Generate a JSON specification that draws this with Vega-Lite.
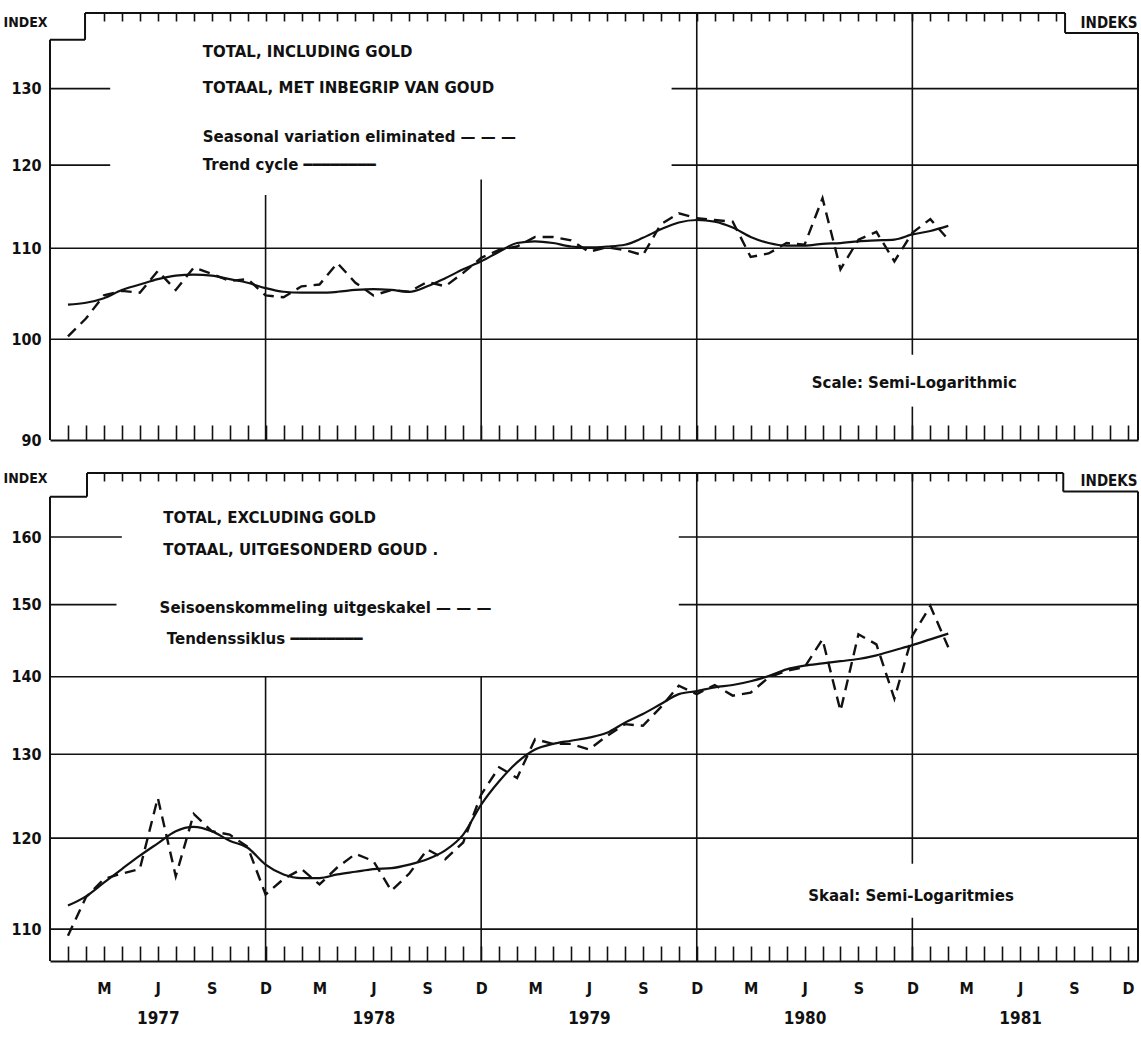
{
  "$schema": "https://vega.github.io/schema/vega-lite/v6.json",
  "background": "white",
  "padding": {"left": 3, "top": 12, "right": 2, "bottom": 4},
  "spacing": 23,
  "config": {
    "view": {"stroke": null},
    "font": "DejaVu Sans Condensed",
    "axis": {"labelColor": "#111", "titleColor": "#111", "domainColor": "#111", "tickColor": "#111", "labelFlush": false, "labelOverlap": false}
  },
  "datasets": {
    "top_series": [
      {"t":1,"sa":100.3,"tc":103.7},{"t":2,"sa":102.2,"tc":103.9},{"t":3,"sa":104.7,"tc":104.4},{"t":4,"sa":105.2,"tc":105.3},
      {"t":5,"sa":105.0,"tc":105.9},{"t":6,"sa":107.4,"tc":106.5},{"t":7,"sa":105.3,"tc":106.9},{"t":8,"sa":107.8,"tc":107.0},
      {"t":9,"sa":107.1,"tc":106.9},{"t":10,"sa":106.3,"tc":106.5},{"t":11,"sa":106.5,"tc":106.1},{"t":12,"sa":104.7,"tc":105.5},
      {"t":13,"sa":104.5,"tc":105.1},{"t":14,"sa":105.7,"tc":105.0},{"t":15,"sa":105.9,"tc":105.0},{"t":16,"sa":108.3,"tc":105.1},
      {"t":17,"sa":106.1,"tc":105.3},{"t":18,"sa":104.7,"tc":105.4},{"t":19,"sa":105.3,"tc":105.3},{"t":20,"sa":105.1,"tc":105.1},
      {"t":21,"sa":106.2,"tc":105.7},{"t":22,"sa":105.7,"tc":106.6},{"t":23,"sa":107.2,"tc":107.6},{"t":24,"sa":108.9,"tc":108.5},
      {"t":25,"sa":109.8,"tc":109.6},{"t":26,"sa":110.2,"tc":110.6},{"t":27,"sa":111.3,"tc":110.8},{"t":28,"sa":111.3,"tc":110.6},
      {"t":29,"sa":110.9,"tc":110.2},{"t":30,"sa":109.6,"tc":110.1},{"t":31,"sa":110.1,"tc":110.2},{"t":32,"sa":109.8,"tc":110.4},
      {"t":33,"sa":109.2,"tc":111.2},{"t":34,"sa":112.8,"tc":112.2},{"t":35,"sa":114.1,"tc":113.0},{"t":36,"sa":113.5,"tc":113.3},
      {"t":37,"sa":113.3,"tc":113.1},{"t":38,"sa":113.1,"tc":112.4},{"t":39,"sa":109.0,"tc":111.3},{"t":40,"sa":109.4,"tc":110.6},
      {"t":41,"sa":110.6,"tc":110.3},{"t":42,"sa":110.4,"tc":110.3},{"t":43,"sa":115.9,"tc":110.5},{"t":44,"sa":107.6,"tc":110.6},
      {"t":45,"sa":111.0,"tc":110.8},{"t":46,"sa":111.9,"tc":110.9},{"t":47,"sa":108.5,"tc":111.0},{"t":48,"sa":111.8,"tc":111.6},
      {"t":49,"sa":113.4,"tc":112.0},{"t":50,"sa":111.0,"tc":112.6}
    ],
    "bottom_series": [
      {"t":1,"sa":109.3,"tc":112.5},{"t":2,"sa":113.4,"tc":113.5},{"t":3,"sa":115.4,"tc":115.0},{"t":4,"sa":116.0,"tc":116.5},
      {"t":5,"sa":116.5,"tc":118.0},{"t":6,"sa":124.7,"tc":119.4},{"t":7,"sa":115.7,"tc":120.8},{"t":8,"sa":122.8,"tc":121.3},
      {"t":9,"sa":120.8,"tc":120.8},{"t":10,"sa":120.4,"tc":119.7},{"t":11,"sa":119.0,"tc":118.9},{"t":12,"sa":113.7,"tc":117.0},
      {"t":13,"sa":115.4,"tc":115.9},{"t":14,"sa":116.5,"tc":115.5},{"t":15,"sa":114.8,"tc":115.5},{"t":16,"sa":116.7,"tc":115.9},
      {"t":17,"sa":118.2,"tc":116.2},{"t":18,"sa":117.4,"tc":116.5},{"t":19,"sa":114.1,"tc":116.6},{"t":20,"sa":116.0,"tc":117.0},
      {"t":21,"sa":118.7,"tc":117.6},{"t":22,"sa":117.6,"tc":118.6},{"t":23,"sa":119.5,"tc":120.4},{"t":24,"sa":125.1,"tc":123.9},
      {"t":25,"sa":128.4,"tc":126.7},{"t":26,"sa":127.1,"tc":129.0},{"t":27,"sa":131.9,"tc":130.6},{"t":28,"sa":131.3,"tc":131.3},
      {"t":29,"sa":131.3,"tc":131.7},{"t":30,"sa":130.6,"tc":132.1},{"t":31,"sa":132.3,"tc":132.7},{"t":32,"sa":133.8,"tc":134.0},
      {"t":33,"sa":133.6,"tc":135.1},{"t":34,"sa":136.0,"tc":136.4},{"t":35,"sa":138.8,"tc":137.7},{"t":36,"sa":137.7,"tc":138.1},
      {"t":37,"sa":138.9,"tc":138.6},{"t":38,"sa":137.5,"tc":138.9},{"t":39,"sa":137.9,"tc":139.4},{"t":40,"sa":139.9,"tc":140.1},
      {"t":41,"sa":140.8,"tc":141.0},{"t":42,"sa":141.3,"tc":141.5},{"t":43,"sa":145.1,"tc":141.8},{"t":44,"sa":135.5,"tc":142.1},
      {"t":45,"sa":145.8,"tc":142.4},{"t":46,"sa":144.4,"tc":142.9},{"t":47,"sa":137.1,"tc":143.6},{"t":48,"sa":145.6,"tc":144.3},
      {"t":49,"sa":149.8,"tc":145.1},{"t":50,"sa":144.0,"tc":145.9}
    ],
    "top_grid": [
      {"t1":0,"t2":60.56,"v1":100,"v2":100},
      {"t1":0,"t2":60.56,"v1":110,"v2":110},
      {"t1":0,"t2":3.35,"v1":120,"v2":120},
      {"t1":34.6,"t2":60.56,"v1":120,"v2":120},
      {"t1":0,"t2":3.35,"v1":130,"v2":130},
      {"t1":34.6,"t2":60.56,"v1":130,"v2":130},
      {"t1":12,"t2":12,"v1":90,"v2":116.3},
      {"t1":24,"t2":24,"v1":90,"v2":118.2},
      {"t1":36,"t2":36,"v1":90,"v2":140.7},
      {"t1":48,"t2":48,"v1":90,"v2":93.2},
      {"t1":48,"t2":48,"v1":98.4,"v2":140.7}
    ],
    "top_frame": [
      {"t1":0,"t2":0,"v1":90,"v2":136.8},
      {"t1":0,"t2":1.95,"v1":136.8,"v2":136.8},
      {"t1":1.95,"t2":1.95,"v1":136.8,"v2":140.7},
      {"t1":1.95,"t2":56.5,"v1":140.7,"v2":140.7},
      {"t1":56.5,"t2":56.5,"v1":140.7,"v2":137.8},
      {"t1":56.5,"t2":60.56,"v1":137.8,"v2":137.8},
      {"t1":60.56,"t2":60.56,"v1":90,"v2":137.8}
    ],
    "bottom_grid": [
      {"t1":0,"t2":60.56,"v1":110,"v2":110},
      {"t1":0,"t2":60.56,"v1":120,"v2":120},
      {"t1":0,"t2":60.56,"v1":130,"v2":130},
      {"t1":0,"t2":60.56,"v1":140,"v2":140},
      {"t1":0,"t2":3.7,"v1":150,"v2":150},
      {"t1":35.0,"t2":60.56,"v1":150,"v2":150},
      {"t1":0,"t2":4.0,"v1":160,"v2":160},
      {"t1":35.0,"t2":60.56,"v1":160,"v2":160},
      {"t1":12,"t2":12,"v1":106.7,"v2":140},
      {"t1":24,"t2":24,"v1":106.7,"v2":140},
      {"t1":36,"t2":36,"v1":106.7,"v2":170.1},
      {"t1":48,"t2":48,"v1":106.7,"v2":111.2},
      {"t1":48,"t2":48,"v1":117.1,"v2":170.1}
    ],
    "bottom_frame": [
      {"t1":0,"t2":0,"v1":106.7,"v2":166.3},
      {"t1":0,"t2":2.06,"v1":166.3,"v2":166.3},
      {"t1":2.06,"t2":2.06,"v1":166.3,"v2":170.1},
      {"t1":2.06,"t2":56.4,"v1":170.1,"v2":170.1},
      {"t1":56.4,"t2":56.4,"v1":170.1,"v2":167.1},
      {"t1":56.4,"t2":60.56,"v1":167.1,"v2":167.1},
      {"t1":60.56,"t2":60.56,"v1":106.7,"v2":167.1}
    ],
    "top_text": [
      {"t":8.5,"v":135.1,"label":"TOTAL, INCLUDING GOLD"},
      {"t":8.5,"v":130.1,"label":"TOTAAL, MET INBEGRIP VAN GOUD"},
      {"t":8.5,"v":123.6,"label":"Seasonal variation eliminated —  —  —"},
      {"t":8.5,"v":120.0,"label":"Trend cycle ━━━━━━━━"},
      {"t":42.4,"v":95.5,"label":"Scale: Semi-Logarithmic"}
    ],
    "bottom_text": [
      {"t":6.3,"v":163.0,"label":"TOTAL, EXCLUDING GOLD"},
      {"t":6.3,"v":158.1,"label":"TOTAAL, UITGESONDERD GOUD ."},
      {"t":6.1,"v":149.5,"label":"Seisoenskommeling uitgeskakel —  —  —"},
      {"t":6.5,"v":145.2,"label":"Tendenssiklus ━━━━━━━━"},
      {"t":42.2,"v":113.5,"label":"Skaal: Semi-Logaritmies"}
    ]
  },
  "vconcat": [
    {
      "width": 1088,
      "height": 427,
      "resolve": {"axis": {"x": "independent", "y": "independent"}},
      "layer": [
        {
          "data": {"name": "top_grid"},
          "mark": {"type": "rule", "strokeWidth": 1.6, "color": "#111"},
          "encoding": {
            "x": {"field": "t1", "type": "quantitative", "scale": {"domain": [0, 60.56], "nice": false, "zero": false},
              "axis": {"orient": "bottom", "values": [1,2,3,4,5,6,7,8,9,10,11,12,13,14,15,16,17,18,19,20,21,22,23,24,25,26,27,28,29,30,31,32,33,34,35,36,37,38,39,40,41,42,43,44,45,46,47,48,49,50,51,52,53,54,55,56,57,58,59,60],
                "tickSize": -15, "tickWidth": 1.6, "labels": false, "domain": true, "domainWidth": 2, "grid": false, "title": null}},
            "x2": {"field": "t2"},
            "y": {"field": "v1", "type": "quantitative", "scale": {"type": "log", "domain": [90, 140.7], "nice": false, "zero": false},
              "axis": {"orient": "left", "values": [90, 100, 110, 120, 130], "format": "d", "ticks": false, "domain": false, "grid": false,
                "labelPadding": 9, "labelFontSize": 16, "labelFontWeight": "bold",
                "title": "INDEX", "titleAngle": 0, "titleX": -47, "titleY": 9, "titleAlign": "left", "titleBaseline": "middle", "titleFontSize": 14, "titleFontWeight": "bold"}},
            "y2": {"field": "v2"}
          }
        },
        {
          "data": {"name": "top_frame"},
          "mark": {"type": "rule", "strokeWidth": 2, "color": "#111"},
          "encoding": {
            "x": {"field": "t1", "type": "quantitative", "scale": {"domain": [0, 60.56], "nice": false, "zero": false}, "axis": null},
            "x2": {"field": "t2"},
            "y": {"field": "v1", "type": "quantitative", "scale": {"type": "log", "domain": [90, 140.7], "nice": false, "zero": false}, "axis": null},
            "y2": {"field": "v2"}
          }
        },
        {
          "data": {"name": "top_series"},
          "mark": {"type": "line", "interpolate": "monotone", "strokeWidth": 2.2, "color": "#111"},
          "encoding": {
            "x": {"field": "t", "type": "quantitative", "scale": {"domain": [0, 60.56], "nice": false, "zero": false},
              "axis": {"orient": "top", "values": [3,4,5,6,7,8,9,10,11,12,13,14,15,16,17,18,19,20,21,22,23,24,25,26,27,28,29,30,31,32,33,34,35,36,37,38,39,40,41,42,43,44,45,46,47,48,49,50,51,52,53,54,55,56],
                "tickSize": -8, "tickWidth": 1.6, "labels": false, "domain": false, "grid": false, "title": null}},
            "y": {"field": "tc", "type": "quantitative", "scale": {"type": "log", "domain": [90, 140.7], "nice": false, "zero": false},
              "axis": {"orient": "right", "ticks": false, "labels": false, "domain": false, "grid": false,
                "title": "INDEKS", "titleAngle": 0, "titleX": -1, "titleY": 9, "titleAlign": "right", "titleBaseline": "middle", "titleFontSize": 15, "titleFontWeight": "bold"}}
          }
        },
        {
          "data": {"name": "top_series"},
          "mark": {"type": "line", "strokeWidth": 2.4, "strokeDash": [11, 7], "color": "#111"},
          "encoding": {
            "x": {"field": "t", "type": "quantitative", "scale": {"domain": [0, 60.56], "nice": false, "zero": false}, "axis": null},
            "y": {"field": "sa", "type": "quantitative", "scale": {"type": "log", "domain": [90, 140.7], "nice": false, "zero": false}, "axis": null}
          }
        },
        {
          "data": {"name": "top_text"},
          "mark": {"type": "text", "align": "left", "baseline": "middle", "font": "DejaVu Sans", "fontSize": 15, "fontWeight": "bold", "color": "#111"},
          "encoding": {
            "x": {"field": "t", "type": "quantitative", "scale": {"domain": [0, 60.56], "nice": false, "zero": false}, "axis": null},
            "y": {"field": "v", "type": "quantitative", "scale": {"type": "log", "domain": [90, 140.7], "nice": false, "zero": false}, "axis": null},
            "text": {"field": "label"}
          }
        }
      ]
    },
    {
      "width": 1088,
      "height": 488,
      "resolve": {"axis": {"x": "independent", "y": "independent"}},
      "layer": [
        {
          "data": {"name": "bottom_grid"},
          "mark": {"type": "rule", "strokeWidth": 1.6, "color": "#111"},
          "encoding": {
            "x": {"field": "t1", "type": "quantitative", "scale": {"domain": [0, 60.56], "nice": false, "zero": false},
              "axis": {"orient": "bottom", "values": [1,2,3,4,5,6,7,8,9,10,11,12,13,14,15,16,17,18,19,20,21,22,23,24,25,26,27,28,29,30,31,32,33,34,35,36,37,38,39,40,41,42,43,44,45,46,47,48,49,50,51,52,53,54,55,56,57,58,59,60],
                "tickSize": -15, "tickWidth": 1.6, "labels": false, "domain": true, "domainWidth": 2, "grid": false, "title": null}},
            "x2": {"field": "t2"},
            "y": {"field": "v1", "type": "quantitative", "scale": {"type": "log", "domain": [106.7, 170.1], "nice": false, "zero": false},
              "axis": {"orient": "left", "values": [110, 120, 130, 140, 150, 160], "format": "d", "ticks": false, "domain": false, "grid": false,
                "labelPadding": 9, "labelFontSize": 16, "labelFontWeight": "bold",
                "title": "INDEX", "titleAngle": 0, "titleX": -47, "titleY": 5, "titleAlign": "left", "titleBaseline": "middle", "titleFontSize": 14, "titleFontWeight": "bold"}},
            "y2": {"field": "v2"}
          }
        },
        {
          "data": {"name": "bottom_frame"},
          "mark": {"type": "rule", "strokeWidth": 2, "color": "#111"},
          "encoding": {
            "x": {"field": "t1", "type": "quantitative", "scale": {"domain": [0, 60.56], "nice": false, "zero": false}, "axis": null},
            "x2": {"field": "t2"},
            "y": {"field": "v1", "type": "quantitative", "scale": {"type": "log", "domain": [106.7, 170.1], "nice": false, "zero": false}, "axis": null},
            "y2": {"field": "v2"}
          }
        },
        {
          "data": {"name": "bottom_series"},
          "mark": {"type": "line", "interpolate": "monotone", "strokeWidth": 2.2, "color": "#111"},
          "encoding": {
            "x": {"field": "t", "type": "quantitative", "scale": {"domain": [0, 60.56], "nice": false, "zero": false},
              "axis": {"orient": "top", "values": [3,4,5,6,7,8,9,10,11,12,13,14,15,16,17,18,19,20,21,22,23,24,25,26,27,28,29,30,31,32,33,34,35,36,37,38,39,40,41,42,43,44,45,46,47,48,49,50,51,52,53,54,55,56],
                "tickSize": -8, "tickWidth": 1.6, "labels": false, "domain": false, "grid": false, "title": null}},
            "y": {"field": "tc", "type": "quantitative", "scale": {"type": "log", "domain": [106.7, 170.1], "nice": false, "zero": false},
              "axis": {"orient": "right", "ticks": false, "labels": false, "domain": false, "grid": false,
                "title": "INDEKS", "titleAngle": 0, "titleX": -1, "titleY": 7, "titleAlign": "right", "titleBaseline": "middle", "titleFontSize": 15, "titleFontWeight": "bold"}}
          }
        },
        {
          "data": {"name": "bottom_series"},
          "mark": {"type": "line", "strokeWidth": 2.4, "strokeDash": [11, 7], "color": "#111"},
          "encoding": {
            "x": {"field": "t", "type": "quantitative", "scale": {"domain": [0, 60.56], "nice": false, "zero": false},
              "axis": {"orient": "bottom", "values": [3,6,9,12,15,18,21,24,27,30,33,36,39,42,45,48,51,54,57,60], "ticks": false, "domain": false, "grid": false,
                "labelExpr": "['D','','','M','','','J','','','S','',''][datum.value % 12]", "labelPadding": 19, "labelFontSize": 16, "labelFontWeight": "bold", "title": null}},
            "y": {"field": "sa", "type": "quantitative", "scale": {"type": "log", "domain": [106.7, 170.1], "nice": false, "zero": false}, "axis": null}
          }
        },
        {
          "data": {"name": "bottom_text"},
          "mark": {"type": "text", "align": "left", "baseline": "middle", "font": "DejaVu Sans", "fontSize": 15, "fontWeight": "bold", "color": "#111"},
          "encoding": {
            "x": {"field": "t", "type": "quantitative", "scale": {"domain": [0, 60.56], "nice": false, "zero": false},
              "axis": {"orient": "bottom", "values": [6, 18, 30, 42, 54], "ticks": false, "domain": false, "grid": false,
                "labelExpr": "'' + (1977 + floor(datum.value / 12))", "labelPadding": 49, "labelFontSize": 17, "labelFontWeight": "bold", "title": null}},
            "y": {"field": "v", "type": "quantitative", "scale": {"type": "log", "domain": [106.7, 170.1], "nice": false, "zero": false}, "axis": null},
            "text": {"field": "label"}
          }
        }
      ]
    }
  ]
}
